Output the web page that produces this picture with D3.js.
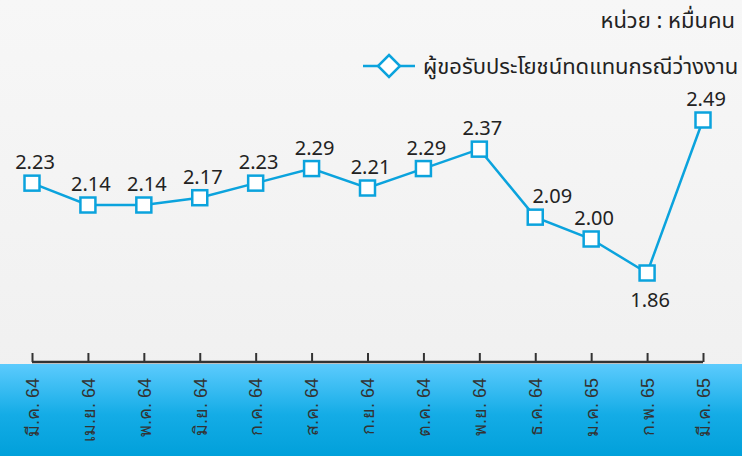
<!DOCTYPE html>
<html>
<head>
<meta charset="utf-8">
<script src="https://cdn.jsdelivr.net/npm/d3@7"></script>
<style>
  body { margin: 0; }
  svg { display: block; font-family: "Noto Sans Thai", "Noto Sans", "Open Sans", sans-serif; }
</style>
</head>
<body>
<div id="chart"></div>
<script>
var months = ["มี.ค. 64", "เม.ย. 64", "พ.ค. 64", "มิ.ย. 64", "ก.ค. 64", "ส.ค. 64", "ก.ย. 64",
  "ต.ค. 64", "พ.ย. 64", "ธ.ค. 64", "ม.ค. 65", "ก.พ. 65", "มี.ค. 65"];
var values = [2.23, 2.14, 2.14, 2.17, 2.23, 2.29, 2.21, 2.29, 2.37, 2.09, 2.00, 1.86, 2.49];
var seriesName = "ผู้ขอรับประโยชน์ทดแทนกรณีว่างงาน";
var unitLabel = "หน่วย : หมื่นคน";

var width = 742, height = 456;
var blue = "#0ba3dd";

var svg = d3.select("#chart").append("svg")
  .attr("width", width)
  .attr("height", height);

var defs = svg.append("defs");
var bg = defs.append("linearGradient").attr("id", "bg").attr("x1", 0).attr("x2", 0).attr("y1", 0).attr("y2", 1);
bg.append("stop").attr("offset", "0%").attr("stop-color", "#f7f7f7");
bg.append("stop").attr("offset", "100%").attr("stop-color", "#efefef");
var band = defs.append("linearGradient").attr("id", "band").attr("x1", 0).attr("x2", 0).attr("y1", 0).attr("y2", 1);
band.append("stop").attr("offset", "0%").attr("stop-color", "#5ccbfd");
band.append("stop").attr("offset", "55%").attr("stop-color", "#14ace6");
band.append("stop").attr("offset", "100%").attr("stop-color", "#01a0da");

svg.append("rect").attr("width", width).attr("height", height).attr("fill", "url(#bg)");
svg.append("rect").attr("x", 0).attr("y", 364).attr("width", width).attr("height", height - 364)
  .attr("fill", "url(#band)");

// scales
var x = d3.scalePoint().domain(months).range([32, 703]);
var y = d3.scaleLinear().domain([1.86, 2.49]).range([273, 120]);

// x axis
var xAxis = d3.axisBottom(x).tickSize(-9).tickPadding(12);
var gx = svg.append("g")
  .attr("transform", "translate(0,362)")
  .call(xAxis);
gx.select(".domain").attr("stroke", "#333").attr("stroke-width", 2.5).attr("d", "M32,0H703");
gx.selectAll(".tick line").attr("stroke", "#333").attr("stroke-width", 2);
gx.selectAll(".tick text")
  .attr("fill", "#333")
  .style("font-size", "18px")
  .attr("text-anchor", "end")
  .attr("transform", "rotate(-90)")
  .attr("x", -16)
  .attr("y", 0)
  .attr("dy", "0.35em");

// line
var line = d3.line()
  .x(function (d, i) { return x(months[i]); })
  .y(function (d) { return y(d); });

svg.append("path")
  .datum(values)
  .attr("fill", "none")
  .attr("stroke", blue)
  .attr("stroke-width", 2.5)
  .attr("d", line);

svg.append("g")
  .selectAll("rect")
  .data(values)
  .enter()
  .append("rect")
  .attr("x", function (d, i) { return x(months[i]) - 7.5; })
  .attr("y", function (d) { return y(d) - 7.5; })
  .attr("width", 15)
  .attr("height", 15)
  .attr("fill", "#fff")
  .attr("stroke", blue)
  .attr("stroke-width", 2.5);

// value labels (nudge right when the incoming segment drops steeply)
var minV = d3.min(values);
svg.append("g")
  .selectAll("text")
  .data(values)
  .enter()
  .append("text")
  .attr("x", function (d, i) {
    var steep = i > 0 && values[i - 1] - d > 0.2;
    return x(months[i]) + (steep ? 17 : 3);
  })
  .attr("y", function (d) { return d === minV ? y(d) + 34 : y(d) - 14; })
  .attr("text-anchor", "middle")
  .style("font-size", "20px")
  .attr("fill", "#222")
  .text(function (d) { return d.toFixed(2); });

// unit
svg.append("text")
  .attr("x", 735)
  .attr("y", 28)
  .attr("text-anchor", "end")
  .style("font-size", "22px")
  .attr("fill", "#222")
  .text(unitLabel);

// legend
var lg = svg.append("g").attr("transform", "translate(363,66)");
lg.append("line").attr("x1", 0).attr("x2", 52).attr("y1", 0).attr("y2", 0)
  .attr("stroke", blue).attr("stroke-width", 2.5);
lg.append("path").attr("d", "M26,-11L37,0L26,11L15,0Z")
  .attr("fill", "#fff").attr("stroke", blue).attr("stroke-width", 2.5);
lg.append("text").attr("x", 60).attr("y", 8)
  .style("font-size", "22px")
  .attr("fill", "#222")
  .text(seriesName);
</script>
</body>
</html>
